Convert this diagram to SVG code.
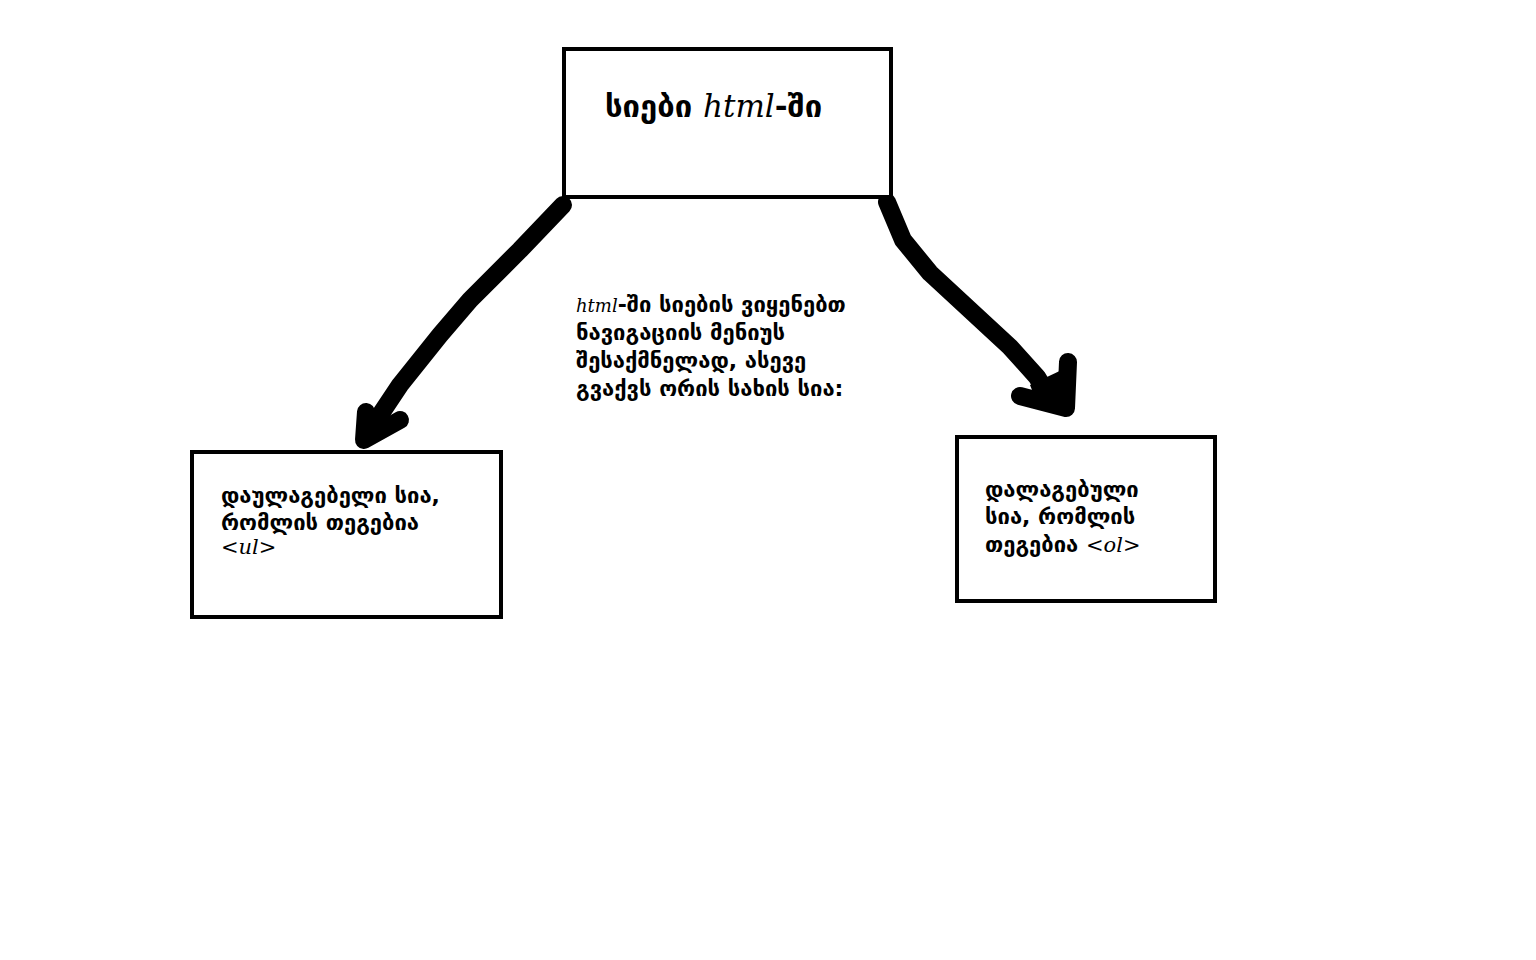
<svg xmlns="http://www.w3.org/2000/svg" width="1536" height="960" viewBox="0 0 1536 960">
<style>
.box{fill:#fff;stroke:#000;stroke-width:4}
.ka{font-family:"DejaVu Sans","Noto Sans",sans-serif;font-weight:bold;fill:#000}
.lat{font-family:"DejaVu Serif","Liberation Serif",serif;font-style:italic;font-weight:normal}
.arr{fill:none;stroke:#000;stroke-width:18;stroke-linecap:round;stroke-linejoin:round}
</style>
<rect width="1536" height="960" fill="#fff"/>
<g id="connectors">
<path class="arr" d="M563,205 L520,250 L470,300 L440,335 L400,385 L368,433"/>
<path class="arr" d="M366,412 L364,440 L400,420"/>
<path class="arr" d="M887,202 L903,240 L930,273 L970,310 L1010,347 L1037,377 L1052,402"/>
<path class="arr" d="M1068,362 L1066,408 L1020,396"/>
<path d="M1030,385 L1066,368 L1068,412 L1040,410 Z" fill="#000"/>
</g>
<g id="title">
<rect class="box" x="564" y="49" width="327" height="148"/>
<text class="ka" x="605" y="117" font-size="31">სიები <tspan class="lat" font-size="31">html</tspan>-ში</text>
</g>
<g id="description">
<text class="ka" font-size="22">
<tspan x="576" y="312"><tspan class="lat" font-size="18">html</tspan>-ში სიების ვიყენებთ</tspan>
<tspan x="576" y="340">ნავიგაციის მენიუს</tspan>
<tspan x="576" y="368">შესაქმნელად, ასევე</tspan>
<tspan x="576" y="396">გვაქვს ორის სახის სია:</tspan>
</text>
</g>
<g id="unordered">
<rect class="box" x="192" y="452" width="309" height="165"/>
<text class="ka" font-size="22">
<tspan x="221" y="503">დაულაგებელი სია,</tspan>
<tspan x="221" y="530">რომლის თეგებია</tspan>
<tspan x="221" y="554" class="lat" font-size="21">&lt;ul&gt;</tspan>
</text>
</g>
<g id="ordered">
<rect class="box" x="957" y="437" width="258" height="164"/>
<text class="ka" font-size="22">
<tspan x="985" y="497">დალაგებული</tspan>
<tspan x="985" y="524">სია, რომლის</tspan>
<tspan x="985" y="552">თეგებია <tspan class="lat" font-size="21">&lt;ol&gt;</tspan></tspan>
</text>
</g>
</svg>
